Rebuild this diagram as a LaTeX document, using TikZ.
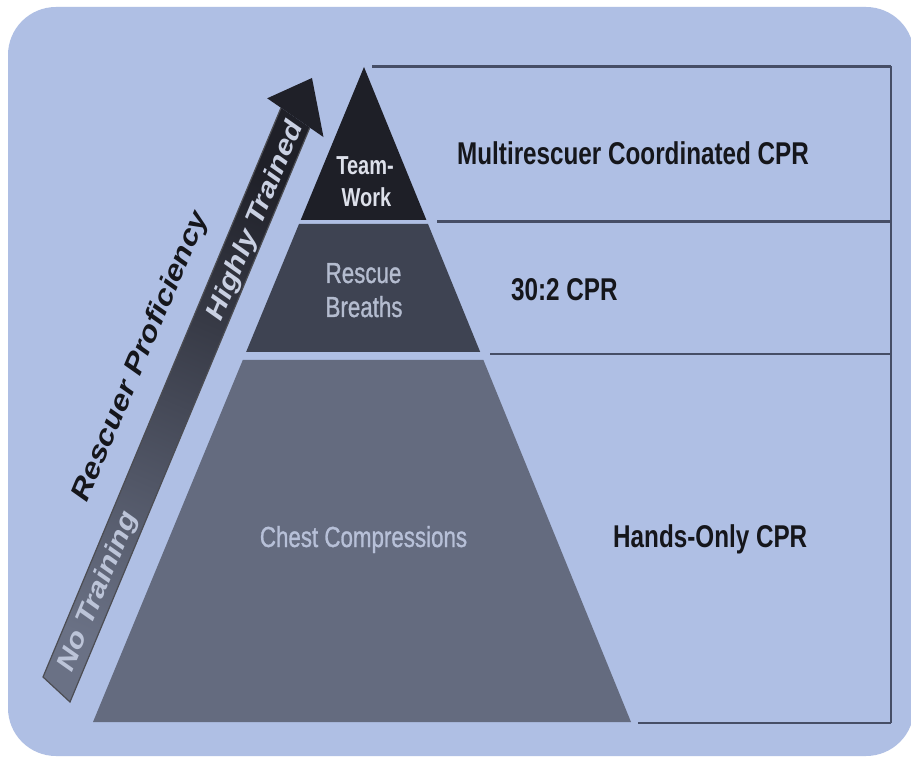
\documentclass[tikz,border=0pt]{standalone}
\usepackage{fontspec}
\newfontfamily\hv{Liberation Sans}
\newfontfamily\hvm[FakeBold=1.2]{Liberation Sans}
\definecolor{bg}{HTML}{AFBFE4}
\definecolor{lin}{HTML}{464E66}
\definecolor{bandA}{HTML}{1E1F27}
\definecolor{bandB}{HTML}{3E4352}
\definecolor{bandC}{HTML}{646B7F}
\definecolor{txtA}{HTML}{DDE0EA}
\definecolor{txtB}{HTML}{B4BCCF}
\definecolor{txtC}{HTML}{B7C0D8}
\definecolor{shaftTop}{HTML}{1F2028}
\definecolor{shaftBot}{HTML}{6A7185}
\definecolor{ink}{HTML}{15161B}
\definecolor{lightA}{HTML}{C9D0E2}
\definecolor{lightB}{HTML}{BCC4D8}
\begin{document}
\begin{tikzpicture}[x=1pt,y=-1pt,
  frame/.style={line width=2.6pt, draw=lin},
  lbl/.style={transform shape, inner sep=0pt, anchor=base west, text=ink,
    font=\hv\bfseries\fontsize{31.5}{34}\selectfont},
  plbl/.style={transform shape, inner sep=0pt, anchor=base,
    font=\hvm\fontsize{29}{34}\selectfont},
  tlbl/.style={transform shape, inner sep=0pt, anchor=base,
    font=\hv\bfseries\fontsize{26}{32}\selectfont, text=txtA},
  rlbl/.style={transform shape, inner sep=0pt, rotate=61.5,
    font=\hv\bfseries\fontsize{32.5}{40}\selectfont}]
\useasboundingbox (0,0) rectangle (911,759);
\fill[white] (0,0) rectangle (911,759);
\fill[bg, rounded corners=48pt] (8,7) rectangle (914,756);

% pyramid bands
\fill[bandA] (364,67) -- (426.4,220) -- (300.7,220) -- cycle;
\fill[bandB] (299.0,224) -- (428.0,224) -- (480.2,352) -- (246.1,352) -- cycle;
\fill[bandC] (242.8,360) -- (483.4,360) -- (631,722) -- (93,722) -- cycle;

% frame lines
\coordinate (t0) at (372,66.5);
\coordinate (t1) at (891,66.5);
\coordinate (m0) at (437,221.5);
\coordinate (m1) at (891,221.5);
\coordinate (n0) at (490,354);
\coordinate (n1) at (891,354);
\coordinate (b0) at (638,723);
\coordinate (b1) at (891,723);
\draw[frame] (t0) -- (t1);
\draw[frame] (m0) -- (m1);
\draw[frame] (n0) -- (n1);
\draw[frame] (b0) -- (b1);
\draw[frame] (t1) -- (b1);

% arrow
\coordinate (S1) at (43,677);
\coordinate (S2) at (70,702);
\coordinate (S3) at (309.8,127.6);
\coordinate (S4) at (281,107.8);
\coordinate (R) at (323.5,137.1);
\coordinate (T) at (312,78);
\coordinate (L) at (267.2,98.3);
\shade[top color=shaftTop, bottom color=shaftBot, shading angle=-22.5]
  (S1) -- (S2) -- (S3) -- (S4) -- cycle;
\draw[draw=shaftTop!80, line width=1.2pt] (S4) -- (S1) -- (S2) -- (S3);
\fill[shaftTop] (S3) -- (R) -- (T) -- (L) -- (S4) -- cycle;

% texts (the original is squeezed horizontally)
\begin{scope}[xscale=0.77]
  \node[lbl] (multi) at (457/0.77,165) {Multirescuer Coordinated CPR};
  \node[lbl] (thirty) at (511/0.77,300.5) {30:2 CPR};
  \node[lbl] (hands) at (613/0.77,547) {Hands-Only CPR};
  \node[tlbl] (team) at (365/0.77,175) {Team-};
  \node[tlbl] (work) at (366.5/0.77,207) {Work};
  \node[plbl, text=txtB] (rescue) at (363.5/0.77,283) {Rescue};
  \node[plbl, text=txtB] (breaths) at (364/0.77,317) {Breaths};
  \node[plbl, text=txtC] (chest) at (363.5/0.77,547) {Chest Compressions};
  \node[rlbl, text=lightA] (high) at (256/0.77,221) {Highly Trained};
  \node[rlbl, text=lightB] (none) at (98.5/0.77,592) {No Training};
  \node[rlbl, text=ink, font=\hv\bfseries\fontsize{34}{40}\selectfont] (prof) at (141/0.77,357) {Rescuer Proficiency};
\end{scope}
\end{tikzpicture}
\end{document}
